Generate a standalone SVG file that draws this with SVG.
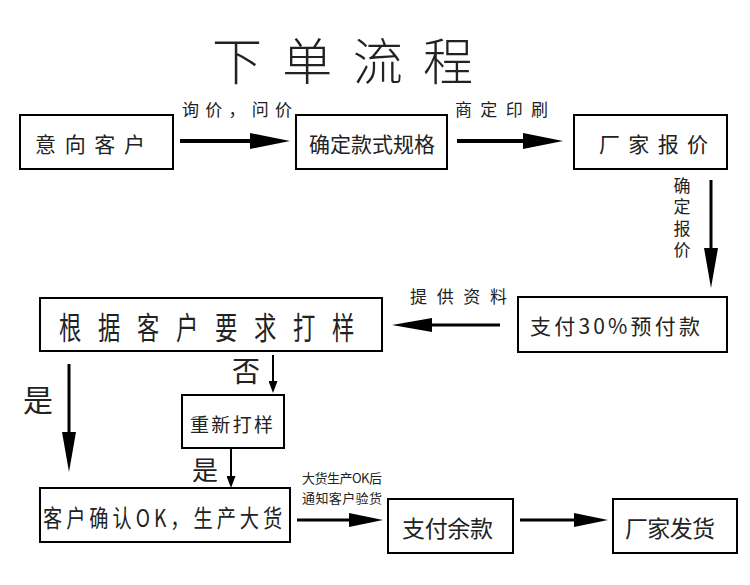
<svg xmlns="http://www.w3.org/2000/svg" width="750" height="585" viewBox="0 0 750 585">
<style>
  .box { fill: #fff; stroke: #000; stroke-width: 2; }
  text { font-family: "Noto Sans CJK SC", "Liberation Sans", sans-serif; fill: #222; dominant-baseline: central; }
  .t { font-size: 21px; }
  .lbl { font-size: 17px; }
  .sm { font-size: 13px; }
  .c { stroke: #000; fill: none; }
</style>
<defs>
  <marker id="ah" markerUnits="userSpaceOnUse" viewBox="0 -8 40 16" refX="0" refY="0" markerWidth="40" markerHeight="16" orient="auto"><path d="M0,-8 L40,0 L0,8 z" fill="#000"/></marker>
  <marker id="am" markerUnits="userSpaceOnUse" viewBox="0 -7 40 14" refX="0" refY="0" markerWidth="40" markerHeight="14" orient="auto"><path d="M0,-7 L40,0 L0,7 z" fill="#000"/></marker>
  <marker id="as" markerUnits="userSpaceOnUse" viewBox="0 -7 34 14" refX="0" refY="0" markerWidth="34" markerHeight="14" orient="auto"><path d="M0,-7 L34,0 L0,7 z" fill="#000"/></marker>
  <marker id="at" markerUnits="userSpaceOnUse" viewBox="0 -4.5 12 9" refX="0" refY="0" markerWidth="12" markerHeight="9" orient="auto"><path d="M0,-4.5 L12,0 L0,4.5 z" fill="#000"/></marker>
</defs>
<rect width="750" height="585" fill="#fff"/>

<g id="title"><text x="212" y="58" font-size="50" textLength="261" lengthAdjust="spacing" font-weight="300">下单流程</text></g>

<g id="connectors">
  <line class="c" x1="180" y1="141" x2="250" y2="141" stroke-width="4" marker-end="url(#ah)"/>
  <line class="c" x1="457" y1="141" x2="523" y2="141" stroke-width="4" marker-end="url(#ah)"/>
  <line class="c" x1="711" y1="180" x2="711" y2="248" stroke-width="3" marker-end="url(#am)"/>
  <line class="c" x1="500" y1="325" x2="432" y2="325" stroke-width="3" marker-end="url(#am)"/>
  <line class="c" x1="69" y1="364" x2="69" y2="432" stroke-width="3" marker-end="url(#am)"/>
  <line class="c" x1="273" y1="355" x2="273" y2="381" stroke-width="2" marker-end="url(#at)"/>
  <line class="c" x1="231" y1="449" x2="231" y2="476" stroke-width="2" marker-end="url(#at)"/>
  <line class="c" x1="297" y1="520" x2="349" y2="520" stroke-width="3" marker-end="url(#as)"/>
  <line class="c" x1="520" y1="520" x2="574" y2="520" stroke-width="3" marker-end="url(#as)"/>
  <text class="lbl" x="182" y="108" font-size="18" textLength="110" lengthAdjust="spacing">询价，问价</text>
  <text class="lbl" x="455" y="108" font-size="18" textLength="93" lengthAdjust="spacing">商定印刷</text>
  <text class="lbl" x="682" y="177" font-size="16" writing-mode="vertical-rl" letter-spacing="4.5">确定报价</text>
  <text class="lbl" x="410" y="295" textLength="97" lengthAdjust="spacing">提供资料</text>
  <text x="246" y="370" font-size="28" text-anchor="middle">否</text>
  <text x="38" y="398" font-size="30" text-anchor="middle">是</text>
  <text x="205" y="468" font-size="26" text-anchor="middle">是</text>
  <text class="sm" x="302" y="477" textLength="80" lengthAdjust="spacing">大货生产OK后</text>
  <text class="sm" x="302" y="497" textLength="80" lengthAdjust="spacing">通知客户验货</text>
</g>

<g id="n1"><rect class="box" x="20" y="115" width="153" height="54"/><text class="t" x="35" y="143" textLength="110" lengthAdjust="spacing">意向客户</text></g>
<g id="n2"><rect class="box" x="296" y="115" width="151" height="54"/><text class="t" x="309" y="143" textLength="126" lengthAdjust="spacing">确定款式规格</text></g>
<g id="n3"><rect class="box" x="574" y="115" width="153" height="54"/><text class="t" x="599" y="143" textLength="109" lengthAdjust="spacing">厂家报价</text></g>
<g id="n4"><rect class="box" x="518" y="297" width="209" height="55"/><text class="t" x="530" y="325" font-size="22" textLength="170" lengthAdjust="spacing">支付30%预付款</text></g>
<g id="n5"><rect class="box" x="40" y="298" width="342" height="53"/><text transform="translate(59,326) scale(0.72,1)" x="0" y="0" font-size="31" textLength="410" lengthAdjust="spacing">根据客户要求打样</text></g>
<g id="n6"><rect class="box" x="182" y="395" width="102" height="53"/><text x="190" y="423" font-size="19" textLength="83" lengthAdjust="spacing">重新打样</text></g>
<g id="n7"><rect class="box" x="40" y="488" width="250" height="54"/><text transform="translate(43,517) scale(0.8,1)" x="0" y="0" font-size="24" textLength="299" lengthAdjust="spacing">客户确认OK，生产大货</text></g>
<g id="n8"><rect class="box" x="388" y="499" width="125" height="54"/><text x="402" y="527" font-size="23" textLength="91" lengthAdjust="spacing">支付余款</text></g>
<g id="n9"><rect class="box" x="613" y="499" width="124" height="54"/><text x="625" y="527" font-size="23" textLength="90" lengthAdjust="spacing">厂家发货</text></g>
</svg>
